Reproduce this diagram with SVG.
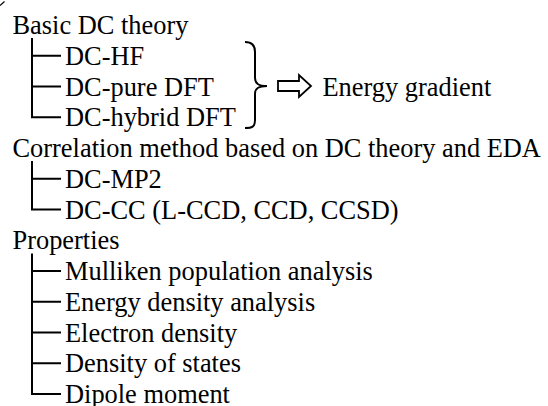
<svg xmlns="http://www.w3.org/2000/svg" width="548" height="406" viewBox="0 0 548 406">
<style>
.t { font-family: 'Liberation Serif', 'Times New Roman', serif; font-size: 26.4px; fill: #000; }
.ln { stroke: #000; stroke-width: 2; fill: none; stroke-linecap: square; }
.br { stroke: #000; stroke-width: 2; fill: none; }
.ar { stroke: #000; stroke-width: 1.8; fill: #fff; stroke-linejoin: miter; }
</style>
<rect width="548" height="406" fill="#fff"/>
<path d="M0,5.5 L4.5,1.5" stroke="#000" stroke-width="1.2" fill="none"/>
<g id="connectors">
  <path class="ln" d="M32,39 V117.25 M32,55.75 H60 M32,86.5 H60 M32,117.25 H60"/>
  <path class="ln" d="M32,162 V209.5 M32,178.75 H60 M32,209.5 H60"/>
  <path class="ln" d="M32,254.5 V394 M32,271 H60 M32,301.75 H60 M32,332.5 H60 M32,363.25 H60 M32,394 H60"/>
  <path class="br" d="M245,42 C252,42 255,45 255,52 L255,78 C255,84 259,86 267,86 C259,86 255,88 255,94 L255,120 C255,127 252,128 245,128"/>
  <polygon class="ar" points="278,81 299,81 299,75 311,86 299,97 299,91 278,91"/>
</g>
<g id="basic"><text class="t" x="12.5" y="34">Basic DC theory</text></g>
<g id="dc-hf"><text class="t" x="65" y="64.75">DC-HF</text></g>
<g id="dc-pure"><text class="t" x="65" y="95.5">DC-pure DFT</text></g>
<g id="dc-hybrid"><text class="t" x="65" y="126.25">DC-hybrid DFT</text></g>
<g id="energy-gradient"><text class="t" x="322.5" y="95.5">Energy gradient</text></g>
<g id="correlation"><text class="t" x="12.5" y="157">Correlation method based on DC theory and EDA</text></g>
<g id="dc-mp2"><text class="t" x="65" y="187.75">DC-MP2</text></g>
<g id="dc-cc"><text class="t" x="65" y="218.5">DC-CC (L-CCD, CCD, CCSD)</text></g>
<g id="properties"><text class="t" x="12.5" y="249.25">Properties</text></g>
<g id="mulliken"><text class="t" x="65" y="280">Mulliken population analysis</text></g>
<g id="energy-density"><text class="t" x="65" y="310.75">Energy density analysis</text></g>
<g id="electron-density"><text class="t" x="65" y="341.5">Electron density</text></g>
<g id="dos"><text class="t" x="65" y="372.25">Density of states</text></g>
<g id="dipole"><text class="t" x="65" y="402.5">Dipole moment</text></g>
</svg>
